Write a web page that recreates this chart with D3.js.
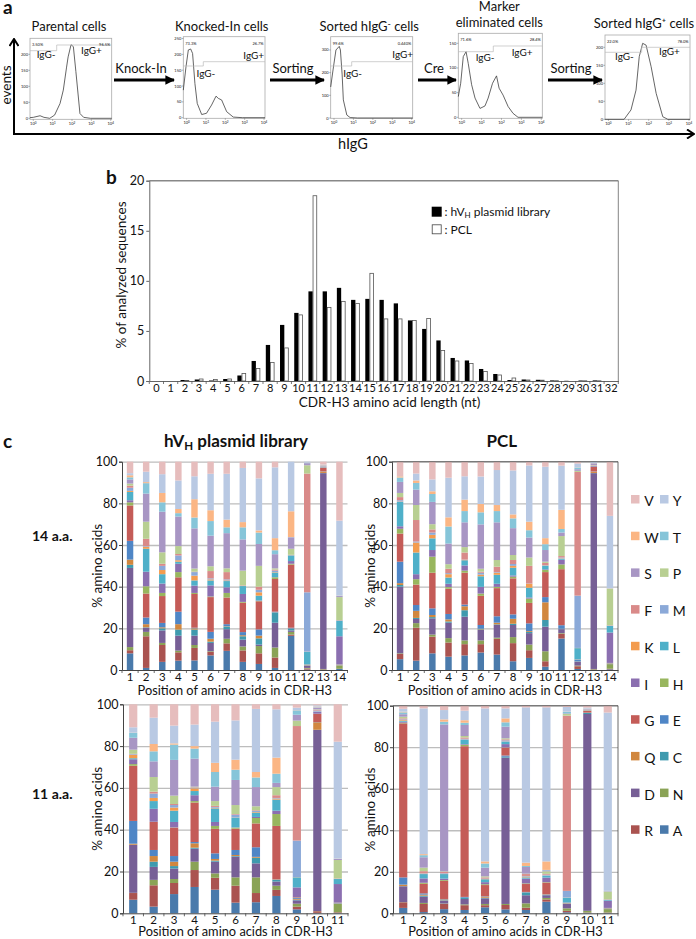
<!DOCTYPE html>
<html><head><meta charset="utf-8">
<style>
html,body{margin:0;padding:0;background:#fff}
svg{display:block}
text{font-family:Lato,"Open Sans",sans-serif;fill:#111}
</style>
<script src="https://cdn.jsdelivr.net/npm/d3@7/dist/d3.min.js"></script>
</head><body><svg id="c" width="696" height="939"></svg>
<script>
// ---------- data: panel a (log10 fluorescence, events)
const histParental=[[-.17,2],[0,3],[.35,8],[.55,3],[.85,0],[1.1,10],[1.38,46],[1.55,88],[1.72,160],[1.8,192],[1.95,230],[2.07,224],[2.2,146],[2.41,15],[2.6,3],[2.95,0],[4.05,0]];
const histKnocked=[[-.17,87],[-.03,161],[.09,214],[.21,217],[.31,203],[.43,108],[.55,45],[.78,10],[1.03,14],[1.29,40],[1.52,68],[1.64,61],[1.81,56],[2.07,19],[2.41,2],[2.9,0],[4.05,0]];
const histSortedNeg=[[-.17,137],[-.05,212],[.1,300],[.27,316],[.33,300],[.42,190],[.48,80],[.66,13],[.83,2],[1.2,0],[4.05,0]];
const histMarker=[[-.17,42],[-.05,69],[.08,123],[.22,133],[.33,109],[.5,66],[.67,39],[.92,18],[1.17,23],[1.33,39],[1.55,69],[1.75,84],[1.88,59],[2.08,45],[2.33,22],[2.58,8],[2.83,0],[4.05,0]];
const histSortedPos=[[-.17,0],[.78,0],[1.12,26],[1.37,81],[1.53,174],[1.7,211],[1.87,206],[2.12,146],[2.37,72],[2.7,7],[2.95,0],[4.05,0]];
const histYTicks=[[0,50,100,150,200],[0,50,100,150,200,250],[0,100,200,300],[0,50,100,150],[0,50,100,150,200]];
const histPct=[["3.50%","96.5%"],["73.3%","26.7%"],["99.6%","0.440%"],["71.6%","28.4%"],["22.0%","78.0%"]];
// ---------- data: panel b
const lengths=d3.range(0,33);
const hvLength=[0,0,.1,.15,.05,.2,.55,2,3.6,5.6,6.8,8.95,8.95,9.3,8.1,8.2,8.1,7.75,6.05,5.2,4.05,2.3,2.05,1.2,.7,.1,.15,.12,.06,.02,.05,.06,0];
const pclLength=[0,0,.05,.2,.15,.2,.75,1.25,1.85,3.3,6.6,18.5,7.35,7.95,7.75,10.75,6.2,6.2,6.05,6.25,3.05,2,1.75,.95,.6,.3,.1,.08,.03,0,.02,.02,0];
// ---------- data: panel c, stack order bottom to top
const residues=["A","R","N","D","C","Q","E","G","H","I","L","K","M","F","P","S","T","W","Y","V"];
const residueColors=["#4a7aab","#aa5350","#8aa356","#775f96","#3f9aae","#d1873f","#4f86c6","#c45c58","#98b65e","#8b6fb0","#4fb0c9","#f39c4f","#8ba9d8","#d98a89","#b8cf92","#a896c4","#86c5d9","#fbb684","#b9c9e3","#e6bdbd"];
const hv14=[
[8,1.5,1.5,38,1.5,2.5,9,17,1.5,1,4,.5,1.5,1,1,2,1,1,1,5.5],
[1,15.2,2.1,2,.2,1.5,3.2,11.5,3.5,7,11,1,.3,3.5,8.2,13.5,5,.5,5,4.8],
[3.9,8.1,1,6,1,.5,2.1,12.9,1.5,4.5,4.5,2,2,1,5.5,19.5,4.5,4.5,9,6],
[4.5,4,.8,7.2,2.9,2.6,6,16.5,2.5,4,1,.7,2.3,.7,3.8,14.2,1.6,2,13.7,9],
[4.6,6,1.4,4.5,2.9,.6,.3,16.2,.5,3.5,2.5,2.3,1.7,.2,1.5,19.3,5.2,8.8,11,7],
[7,1.7,.3,4,.6,1.4,3.3,16.7,.3,5.3,2.4,.5,.5,3.5,2.3,14.7,7,5.2,17.5,5.8],
[9.2,3.6,2.2,4.6,1.2,.2,1,12.8,2.2,2.7,3,.3,.5,3.5,1.8,16.9,2.8,3.7,22,5.8],
[3.9,5.5,1.9,3.3,1.6,.5,1.5,14.1,.4,3.8,3.8,.2,.1,.1,7,15,5.8,2.5,26,3],
[2.9,5.1,3.5,.7,3,1.3,3,13.5,.2,.2,2.3,1.6,1.2,1.5,10,10.5,5.5,1,25,8],
[1,5,4.8,11.9,4.9,.1,.3,15.7,.8,.1,2.2,.2,.7,.5,.6,6.8,1.9,5.8,34,2.7],
[16.4,.6,1.3,.7,.7,.2,.4,30.3,.4,1.3,2.7,.1,.1,.1,2.9,5.5,.1,12.4,23.8,0],
[.2,.5,.3,1,.1,.2,.1,.1,.1,.1,6,.1,28.5,57,4,1,.1,.1,.5,0],
[.1,.2,.2,94,.1,.7,.1,1.6,.1,.2,.1,.1,.3,.1,.1,.2,.1,.1,.2,1.4],
[.5,.1,1.5,.1,.1,.1,.1,.1,.1,13.5,7.5,.1,.1,.1,11,.5,.1,.1,36,28.3]];
const pcl14=[
[5.2,2.5,.3,32,.8,.9,10.3,13.5,2.3,1.2,11.7,.2,.6,1.5,2,5.3,2.1,.6,.1,6.9],
[4.5,15.8,2.2,2,.5,3.4,2.8,9.8,2.6,2.4,10.4,4.8,.5,10.3,7.2,7.4,3.2,1.2,3.3,5.7],
[8,8,1,7.8,.6,1,3.2,17.1,7.7,3.2,5.6,1.7,1.1,1.5,2.5,10.7,3.8,1.3,5.7,8.5],
[6.4,6.8,2.1,7.4,.6,1,2.6,12.1,.8,1.6,3,1.6,.5,2.1,2.2,9.9,8.2,4.4,19,7.7],
[7,5.4,1.8,11.4,3.1,1.9,.8,15.3,1,2.5,2.5,.2,.1,3.4,2.6,11.9,5.4,5.5,11.2,7],
[8.4,4,1.8,5,.3,.3,1.8,14,1.1,3.2,5.1,.8,.9,.5,1.4,21.3,5.8,4,13.2,7.1],
[7.4,7.6,.5,6.1,.3,.8,3.1,13.5,.6,1.5,4.3,1,.3,2.6,3.2,18.1,5.4,2.9,16.8,4],
[4.2,8.7,2.9,5.8,.6,2.4,2.1,17.3,.8,.6,3.7,.9,.9,1.9,2.4,12.9,4.7,1.9,21.1,4.2],
[5.8,3.7,2.7,5.5,.6,.4,3.7,9.8,2.1,.5,4.7,1.9,.1,8.5,4,9.6,3.5,4.1,27,1.8],
[1.6,2.6,4.8,11.8,3.2,8.5,2.5,12,1,.3,1.7,.2,.2,1,.6,5.6,2.8,2.9,34.3,2.4],
[15.1,2.3,.3,1.9,.1,.1,1.7,26.9,2.3,2.2,.5,.2,.4,.7,9.6,1.7,1.7,9.2,21.2,2],
[.5,1.3,.3,1.8,.1,.1,.7,.1,.1,.1,5.4,.1,25.1,59.4,.5,.8,.8,.1,1.8,.9],
[.1,.2,.2,94,.1,.6,.1,2.2,.1,.3,.1,.1,.1,.1,.1,.8,.1,.1,.6,0],
[.3,.3,2.2,.1,.1,.1,.1,.1,.1,14.6,3.2,.1,.1,.1,17.5,.1,.1,.1,34.7,26]];
const hv11=[
[6.5,3.2,.1,22.9,.1,.5,10.9,26.4,.8,2.3,.5,1.7,.3,.1,2,5.7,2.3,.1,2.6,11],
[3.2,10.2,2.6,6.2,2.5,2.7,2.9,13.4,.1,6.2,3.7,1.5,2.1,.9,7,7.5,4.8,3.5,12.6,6.4],
[9.2,5.3,1.9,5,1.2,2.1,2.7,13.6,.1,2.6,5.4,1.5,1.2,.5,4,17.1,7.3,.6,8.5,10.2],
[12.6,8.1,4,6.2,.5,2.1,.6,18.9,.7,2.8,2,1.3,.3,.2,.3,13.4,4.8,1.2,10.3,9.7],
[11.3,5.7,2.1,5.6,.5,.8,2.7,11.7,1.4,1.9,6.5,.3,.4,.5,2.3,6.9,7,4.4,19.7,8.3],
[5.1,8.1,4,9.9,.3,.5,2.4,10.2,.5,.1,4.7,.1,1.3,.3,4.3,12,4.9,4.8,18.8,7.7],
[5.3,4.4,7.5,6.7,2.7,.4,4.6,11.4,2.6,.5,2.1,.3,.5,.3,1.9,9.2,4.6,2.6,30.2,2.2],
[8.3,2.9,2,2,.8,.2,.1,25.5,5.7,1.6,5.3,.5,.3,1.3,3.9,2,4.4,7.7,23.1,2.4],
[1.9,1.3,1.4,1.6,.3,.4,.4,.3,.1,4.7,4.8,.1,17.5,54.8,2.6,2.8,2.1,.1,1.2,1.6],
[.2,.8,.1,86.6,.1,3.6,.1,3.9,.1,.8,.1,.1,.5,.4,.2,.8,.2,.3,.6,.5],
[.2,.3,4,.1,.1,.1,.1,.1,.1,8.9,2.4,.1,.1,.1,8.8,.5,.1,.1,55.9,17.9]];
const pcl11=[
[2.6,2.7,.1,7.6,.1,.7,3.5,74.2,.3,.5,.5,.3,.3,.5,.8,1.2,.9,.3,1.4,1.5],
[.6,3.9,.5,3,.5,.5,.6,4.6,.5,2.1,2.1,.2,.2,1,1.7,5,1,.5,70.2,1.3],
[2,2.5,.2,1.4,.2,.4,.2,8.7,.4,.7,2.2,.1,.3,.7,.2,70.8,1.3,1.1,4.5,2.1],
[1.6,2.3,.4,2.6,.5,.1,.4,72.6,.7,.3,2.1,.1,.4,.6,.7,5.3,1.1,1.2,4.6,2.4],
[2.9,1,.6,2.7,.3,.5,.2,5.4,.4,1,1.4,.1,.2,.6,.5,4.2,2,1,73.7,1.3],
[1.9,2.1,.5,70.5,.3,.1,.6,3.8,.1,1.6,1.2,.1,.5,.5,.5,5.6,2.1,1.9,4.8,1.3],
[1.6,1.1,2.1,3.9,1.3,.1,.2,3.8,.3,2.3,.6,.4,.3,.9,.2,3.2,.5,1.6,74.8,.8],
[5.6,1.1,.7,1.3,.2,.2,.1,5.6,.2,2.2,.9,.1,.4,.4,1.2,.5,.2,4.1,74.2,.8],
[.5,.7,1.2,2.1,.1,.1,.1,.1,.1,.2,2.3,.1,3.2,84.4,.8,.3,.7,.1,2.3,.6],
[.2,.2,.8,94.8,.5,.1,.1,.8,.1,.1,.1,.1,.1,.1,.1,.2,.1,.1,.5,.9],
[.2,.2,1.6,.1,.1,.1,.1,.1,.1,3.5,.4,.1,.1,.1,3.6,.2,.1,.1,85.9,3.3]];
// legend layout order: rows of pairs, top to bottom
const legendRows=[["V","Y"],["W","T"],["S","P"],["F","M"],["K","L"],["I","H"],["G","E"],["Q","C"],["D","N"],["R","A"]];

const svg=d3.select("#c");
function label(t,x,y,size,opt={}){
  const s=svg.append("text").attr("x",x).attr("y",y).attr("font-size",size).text(t);
  if(opt.anchor)s.attr("text-anchor",opt.anchor);
  if(opt.bold)s.attr("font-weight",700);
  if(opt.rotate)s.attr("transform",`rotate(-90 ${x} ${y})`);
  return s;
}
// ---------- panel letters
label("a",3,14,19,{bold:true});
label("b",106,184,19,{bold:true});
label("c",3,448,19,{bold:true});

// ---------- panel a
const arrowDefs=svg.append("defs");
arrowDefs.append("marker").attr("id","tri").attr("viewBox","0 0 10 10").attr("refX",9).attr("refY",5)
 .attr("markerWidth",3.2).attr("markerHeight",3.2).attr("orient","auto")
 .append("path").attr("d","M0,0L10,5L0,10Z").attr("fill","#000");
arrowDefs.append("marker").attr("id","chev").attr("viewBox","0 0 10 10").attr("refX",9).attr("refY",5)
 .attr("markerWidth",5).attr("markerHeight",5).attr("orient","auto")
 .append("path").attr("d","M2,0.5L9,5L2,9.5").attr("fill","none").attr("stroke","#000").attr("stroke-width",2);
svg.append("path").attr("d","M14,134V39").attr("stroke","#000").attr("stroke-width",2).attr("fill","none").attr("marker-end","url(#chev)");
svg.append("path").attr("d","M13,134H694").attr("stroke","#000").attr("stroke-width",2).attr("fill","none").attr("marker-end","url(#chev)");
label("events",10.5,85,13.5,{anchor:"middle",rotate:true});
label("hIgG",353,149,14.5,{anchor:"middle"});

const hists=[
 {data:histParental,x0:30,x1:111.7,top:38.3,bot:119.3,y0:118.3,px:.32,title:"Parental cells",tx:69,ty:31,
  gate:[56.7,50.7,45],gl:[36.7,58],gp:[81,54]},
 {data:histKnocked,x0:183.3,x1:265,top:36.7,bot:118.3,y0:117.7,px:.3167,title:"Knocked-In cells",tx:221.7,ty:31,
  gate:[203.3,66,61.7],gl:[196.5,77],gp:[243.3,59.3]},
 {data:histSortedNeg,x0:330.7,x1:412.7,top:36.7,bot:118.3,y0:118,px:.2267,title:null,tx:369.3,ty:31,
  gate:[351.7,66,61.7],gl:[343.3,76.7],gp:[392.3,58.3]},
 {data:histMarker,x0:458.3,x1:542.3,top:33.3,bot:118.3,y0:117.3,px:.4933,title:null,tx:499.3,ty:27,
  gate:[493.3,51.7,46],gl:[475.7,60.7],gp:[511.7,55.7]},
 {data:histSortedPos,x0:605,x1:690,top:35,bot:119.3,y0:119.3,px:.36,title:"Sorted hIgG⁺ cells",tx:644,ty:27.5,
  gate:[641.7,52.3,47.3],gl:[615,60],gp:[659,55]}];
hists.forEach((h,i)=>{
  const x=d3.scaleLinear().domain([-.17,4.05]).range([h.x0,h.x1]);
  const y=d3.scaleLinear().domain([0,1]).range([h.y0,h.y0-h.px]);
  const g=svg.append("g");
  g.append("rect").attr("x",h.x0).attr("y",h.top).attr("width",h.x1-h.x0).attr("height",h.bot-h.top)
   .attr("fill","none").attr("stroke","#aaa").attr("stroke-width",.8);
  histYTicks[i].forEach(t=>{
    g.append("line").attr("x1",h.x0-1.5).attr("x2",h.x0).attr("y1",y(t)).attr("y2",y(t)).attr("stroke","#666").attr("stroke-width",.5);
    g.append("text").attr("x",h.x0-2).attr("y",y(t)+1.5).attr("text-anchor","end").attr("font-size",4).attr("fill","#555").text(t);
  });
  [0,1,2,3,4].forEach(t=>{
    g.append("line").attr("x1",x(t)).attr("x2",x(t)).attr("y1",h.bot).attr("y2",h.bot+1.5).attr("stroke","#666").attr("stroke-width",.5);
    const lb=g.append("text").attr("x",x(t)).attr("y",h.bot+6).attr("text-anchor","middle").attr("font-size",4).attr("fill","#555").text("10");
    lb.append("tspan").attr("dy",-1.2).attr("font-size",3).text(t);
  });
  g.append("path").datum(h.data).attr("fill","none").attr("stroke","#333").attr("stroke-width",.75)
   .attr("d",d3.line().x(d=>x(d[0])).y(d=>y(d[1])));
  const [gx,gyL,gyR]=h.gate;
  g.append("path").attr("fill","none").attr("stroke","#bbb").attr("stroke-width",.7)
   .attr("d",`M${h.x0},${gyL}H${gx}V${gyR}H${h.x1}`);
  // percent labels
  g.append("text").attr("x",h.x0+2).attr("y",h.top+8).attr("font-size",4).attr("fill","#444").text(histPct[i][0]);
  g.append("text").attr("x",h.x1-1.5).attr("y",h.top+8).attr("text-anchor","end").attr("font-size",4).attr("fill","#444").text(histPct[i][1]);
  label("IgG-",h.gl[0],h.gl[1],10);
  label("IgG+",h.gp[0],h.gp[1],10);
  if(h.title)label(h.title,h.tx,h.ty,13,{anchor:"middle"});
});
// titles with superscript / two lines
{
  const t=label("Sorted hIgG",369.3,31,13,{anchor:"middle"});
  t.append("tspan").attr("dy",-4).attr("font-size",9).text("-");
  t.append("tspan").attr("dy",4).text(" cells");
  label("Marker",499.3,10.5,13,{anchor:"middle"});
  label("eliminated cells",499.3,27,13,{anchor:"middle"});
}
const flowArrows=[[114,174,"Knock-In",141],[270,324,"Sorting",293],[418,456,"Cre",434],[548,602,"Sorting",571]];
flowArrows.forEach(([a,b,t,tx])=>{
  svg.append("line").attr("x1",a).attr("x2",b).attr("y1",80).attr("y2",80).attr("stroke","#000").attr("stroke-width",3).attr("marker-end","url(#tri)");
  label(t,tx,73,13,{anchor:"middle"});
});

// ---------- panel b
{
  const L=149.3,R=618.3,T=180.7,B=381;
  const x=d3.scaleBand().domain(lengths).range([L,R]);
  const y=d3.scaleLinear().domain([0,20]).range([B,T]);
  const w=4.3,st=x.step();
  svg.append("line").attr("x1",L).attr("x2",R).attr("y1",T).attr("y2",T).attr("stroke","#888").attr("stroke-width",1.4);
  svg.append("line").attr("x1",R).attr("x2",R).attr("y1",T).attr("y2",B).attr("stroke","#666").attr("stroke-width",.8);
  const ax=svg.append("g").attr("transform",`translate(0,${B})`).call(d3.axisBottom(x).tickSize(0).tickPadding(3));
  ax.selectAll("text").attr("font-size",11).attr("font-family","Lato");
  ax.select(".domain").attr("stroke","#666");
  ax.selectAll(".edge").data(d3.range(0,34)).enter().append("line").attr("class","edge")
    .attr("x1",d=>L+d*st).attr("x2",d=>L+d*st).attr("y1",0).attr("y2",3).attr("stroke","#555").attr("stroke-width",.8);
  const ay=svg.append("g").attr("transform",`translate(${L},0)`).call(d3.axisLeft(y).tickValues([0,5,10,15,20]).tickSize(3).tickPadding(2));
  ay.selectAll("text").attr("font-size",12.5).attr("font-family","Lato");
  ay.selectAll("line,.domain").attr("stroke","#666");
  svg.selectAll(".hv").data(hvLength).enter().append("rect").attr("class","hv")
    .attr("x",(d,i)=>x(lengths[i])+st/2-w).attr("width",w).attr("y",d=>y(d)).attr("height",d=>B-y(d)).attr("fill","#000");
  svg.selectAll(".pcl").data(pclLength).enter().append("rect").attr("class","pcl")
    .attr("x",(d,i)=>x(lengths[i])+st/2+.3).attr("width",w-.6).attr("y",d=>y(d)).attr("height",d=>B-y(d))
    .attr("fill","#fff").attr("stroke","#555").attr("stroke-width",.8);
  label("CDR-H3 amino acid length (nt)",389.5,407,13.5,{anchor:"middle"});
  label("% of analyzed sequences",126,275,13.5,{anchor:"middle",rotate:true});
  svg.append("rect").attr("x",431.7).attr("y",206.7).attr("width",10).attr("height",10).attr("fill","#000");
  svg.append("rect").attr("x",432.2).attr("y",224.8).attr("width",9).attr("height",9).attr("fill","#fff").attr("stroke","#444").attr("stroke-width",.8);
  const lg=label(": hV",444.5,215.5,12);
  lg.append("tspan").attr("dy",2.5).attr("font-size",8).text("H");
  lg.append("tspan").attr("dy",-2.5).text(" plasmid library");
  label(": PCL",444.5,233.5,12);
}

// ---------- panel c
function stackPanel(rows,L,R,T,B,opts){
  const cats=rows.map((r,i)=>i+1);
  const table=rows.map(r=>Object.fromEntries(residues.map((k,i)=>[k,r[i]])));
  const series=d3.stack().keys(residues)(table);
  const x=d3.scaleBand().domain(cats).range([L,R]).paddingInner(.6).paddingOuter(.3);
  const y=d3.scaleLinear().domain([0,100]).range([B,T]);
  const color=d3.scaleOrdinal().domain(residues).range(residueColors);
  const g=svg.append("g");
  const gridOnly=d3.axisLeft(y).tickValues([20,40,60,80,100]).tickSize(-(R-L)).tickFormat("");
  const gg=g.append("g").attr("transform",`translate(${L},0)`).call(gridOnly);
  gg.select(".domain").remove();
  gg.selectAll("line").attr("stroke","#bdbdbd").attr("stroke-width",1.3);
  g.selectAll(".s").data(series).enter().append("g").attr("fill",d=>color(d.key))
    .selectAll("rect").data(d=>d).enter().append("rect")
    .attr("x",(d,i)=>x(cats[i])).attr("width",x.bandwidth())
    .attr("y",d=>y(d[1])).attr("height",d=>y(d[0])-y(d[1]));
  const ay=g.append("g").attr("transform",`translate(${L},0)`).call(d3.axisLeft(y).tickValues([0,20,40,60,80,100]).tickSize(3).tickPadding(1.5));
  ay.selectAll("text").attr("font-size",12.5).attr("font-family","Lato");
  ay.selectAll("line,.domain").attr("stroke","#444");
  const ax=g.append("g").attr("transform",`translate(0,${B})`).call(d3.axisBottom(x).tickSize(0).tickPadding(2.5));
  ax.selectAll("text").attr("font-size",11.5).attr("font-family","Lato");
  ax.select(".domain").attr("stroke","#444");
  ax.selectAll(".edge").data(d3.range(0,rows.length+1)).enter().append("line").attr("class","edge")
    .attr("x1",d=>L+d*(R-L)/rows.length).attr("x2",d=>L+d*(R-L)/rows.length).attr("y1",0).attr("y2",3).attr("stroke","#444").attr("stroke-width",.8);
  if(opts.border){
    g.append("path").attr("fill","none").attr("stroke","#444").attr("stroke-width",.8).attr("d",`M${L},${T}H${R}V${B}`);
  }
  label("% amino acids",opts.yx,(T+B)/2,13.5,{anchor:"middle",rotate:true});
  label("Position of amino acids in CDR-H3",(L+R)/2,opts.xy,12.8,{anchor:"middle"});
}
stackPanel(hv14,122,347.5,461.7,670,{yx:102,xy:695});
stackPanel(pcl14,392,618,461.7,670,{yx:375,xy:695,border:true});
stackPanel(hv11,123,348,704.3,913.3,{yx:102,xy:935.5});
stackPanel(pcl11,393,618,705.7,913.3,{yx:375,xy:935.5,border:true});

{
  const t=label("hV",236,447,17,{anchor:"middle",bold:true});
  t.append("tspan").attr("dy",3).attr("font-size",11.5).text("H");
  t.append("tspan").attr("dy",-3).text(" plasmid library");
  label("PCL",501.7,447,17,{anchor:"middle",bold:true});
  label("14 a.a.",32,541,14,{bold:true});
  label("11 a.a.",32,799,14,{bold:true});
}
// legend for c
legendRows.forEach((r,i)=>{
  const yy=495+i*36.7;
  r.forEach((k,j)=>{
    const xx=j?660:631;
    svg.append("rect").attr("x",xx).attr("y",yy).attr("width",8.5).attr("height",8.5)
      .attr("fill",residueColors[residues.indexOf(k)]);
    label(k,xx+(j?12.7:13.3),yy+11,14);
  });
});
</script></body></html>
